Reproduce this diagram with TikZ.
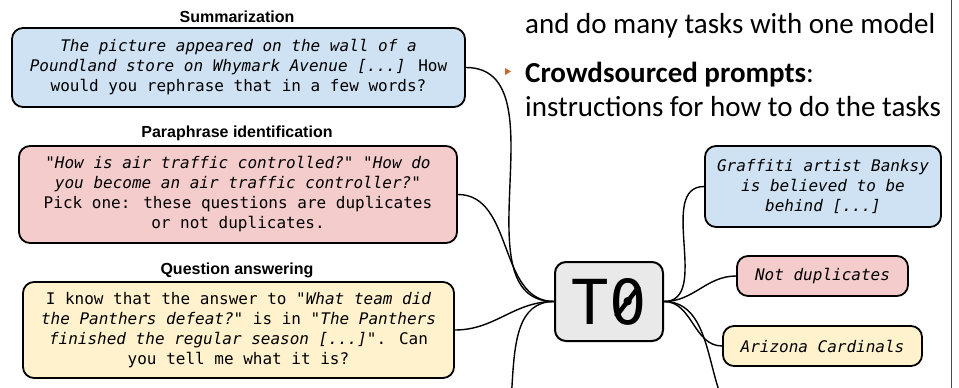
\documentclass[tikz,border=0pt]{standalone}
\usepackage{fontspec}
\setmainfont{Carlito}
\newfontfamily\titelfont{Liberation Sans}
\newfontfamily\monofont{DejaVu Sans Mono}
\usepackage{xcolor}
\usetikzlibrary{arrows}

\definecolor{blau}{HTML}{CFE2F3}
\definecolor{rot}{HTML}{F4CCCC}
\definecolor{gelb}{HTML}{FFF2CC}
\definecolor{grau}{HTML}{E9E9E9}
\definecolor{punkt}{HTML}{C8692A}

\begin{document}
\begin{tikzpicture}[x=1pt, y=-1pt,
			box/.style={draw, line width=1.8pt, rounded corners=11pt, align=center, inner sep=0pt,
				font=\monofont\fontsize{16}{20}\selectfont},
			titel/.style={font=\titelfont\bfseries\fontsize{16}{19}\selectfont},
			verb/.style={line width=1.4pt}]
			% Bildbereich
			\useasboundingbox (0,0) rectangle (959,388);
			\clip (0,0) rectangle (959,388);
			% Aufgaben links
			\node[titel] (sumtitel) at (237,17) {Summarization};
			\node[box, fill=blau, minimum width=453pt, minimum height=79pt] (sum) at (238.5,67.5)
				{\textit{The picture appeared on the wall of a}\\
				 \textit{Poundland store on Whymark Avenue [...]} How\\
				 would you rephrase that in a few words?};
			\node[titel] (paratitel) at (237,133) {Paraphrase identification};
			\node[box, fill=rot, minimum width=438pt, minimum height=97pt] (para) at (238,194.5)
				{\textit{"How is air traffic controlled?" "How do}\\
				 \textit{you become an air traffic controller?"}\\
				 Pick one: these questions are duplicates\\
				 or not duplicates.};
			\node[titel] (qatitel) at (237,270) {Question answering};
			\node[box, fill=gelb, minimum width=431pt, minimum height=96pt] (qa) at (238.5,330)
				{I know that the answer to \textit{"What team did}\\
				 \textit{the Panthers defeat?"} is in \textit{"The Panthers}\\
				 \textit{finished the regular season [...]"}. Can\\
				 you tell me what it is?};
			% Modell
			\node[box, fill=grau, line width=2pt, minimum width=108pt, minimum height=79pt,
				font=\monofont\fontsize{62}{62}\selectfont] (tnull) at (609,301.5) {T0};
			% Schraegstrich in der Null
			\draw[line width=4.5pt] ([shift={(7,15)}]tnull.center) -- ([shift={(30,-15)}]tnull.center);
			% Antworten rechts
			\node[box, fill=blau, minimum width=236pt, minimum height=81pt] (rsum) at (823,186.5)
				{\textit{Graffiti artist Banksy}\\ \textit{is believed to be}\\ \textit{behind [...]}};
			\node[box, fill=rot, minimum width=171pt, minimum height=40pt] (rpara) at (822.5,276)
				{\textit{Not duplicates}};
			\node[box, fill=gelb, minimum width=199pt, minimum height=40pt] (rqa) at (822.5,346)
				{\textit{Arizona Cardinals}};
			% weitere Aufgaben unterhalb
			\coordinate (untenL) at (470,470);
			\coordinate (untenR) at (760,430);
			% Verbindungen
			\foreach \a in {sum, para, qa} \draw[verb] (\a.east) to[out=0, in=180] (tnull.west);
			\draw[verb] (untenL) to[out=0, in=180] (tnull.west);
			\foreach \b in {rsum, rpara, rqa} \draw[verb] (tnull.east) to[out=0, in=180] (\b.west);
			\draw[verb] (tnull.east) to[out=0, in=180] (untenR);
			% Aufzaehlung
			\node[anchor=base west, inner sep=0pt, font=\fontsize{29}{35}\selectfont] (zeileA) at (525,33)
				{and do many tasks with one model};
			\fill[punkt] (505,68) -- (511,71.5) -- (505,75) -- cycle;
			\node[anchor=base west, inner sep=0pt, font=\fontsize{29}{35}\selectfont] (zeileB) at (525,82)
				{\textbf{Crowdsourced prompts}:};
			\node[anchor=base west, inner sep=0pt, font=\fontsize{29}{35}\selectfont] (zeileC) at (525,116)
				{instructions for how to do the tasks};
			% Trennlinie
			\draw[line width=1pt, color=black!70] (951,0) -- (951,388);
		\end{tikzpicture}
\end{document}
